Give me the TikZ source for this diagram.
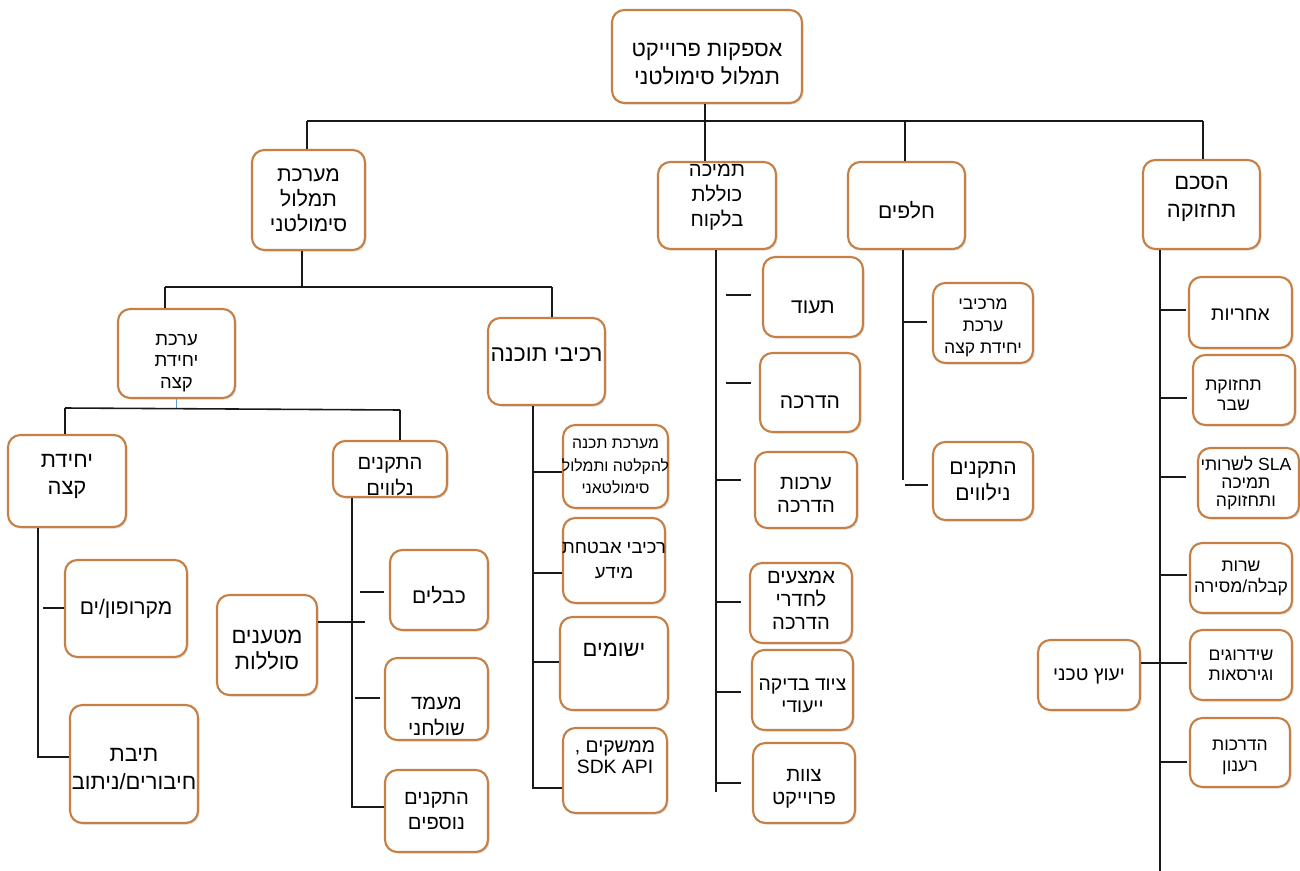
\documentclass[tikz,border=0pt]{standalone}
\usepackage{fontspec}
\setmainfont[Script=Hebrew]{Liberation Sans}
\newfontfamily\latfont{Liberation Sans}
\TeXXeTstate=1
\usetikzlibrary{fit,shadows}
\definecolor{boxedge}{RGB}{198,128,70}
\definecolor{tickblue}{RGB}{91,155,213}
\tikzset{
  box/.style={draw=boxedge, line width=1.2pt, rounded corners=7pt, fill=white, inner sep=0pt,
    drop shadow={shadow xshift=0.9pt, shadow yshift=-0.9pt, opacity=0.25}},
  lbl/.style={align=center, inner sep=0pt, text=black},
  fA/.style={font=\fontsize{12}{15}\selectfont},
  fB/.style={font=\fontsize{11}{14}\selectfont},
  fD/.style={font=\fontsize{9}{13}\selectfont},
  conn/.style={line width=0.9pt, draw=black!90},
}
\begin{document}
\begin{tikzpicture}[x=0.02cm,y=-0.02cm]
\fill[white] (0,0) rectangle (1300,871);
\useasboundingbox (0,0) rectangle (1300,871);

% ---- level 0 / 1
\node[box, fit={(612,10)(802,103)}, label={[lbl,font=\fontsize{12.5}{16}\selectfont,yshift=-4.3pt]center:{\beginR אספקות פרוייקט\endR\\\beginR תמלול סימולטני\endR}}] (top) {};
\node[box, fit={(252,150)(365,250)}, label={[lbl,font=\fontsize{12}{14.2}\selectfont]center:{\beginR מערכת\endR\\\beginR תמלול\endR\\\beginR סימולטני\endR}}] (sys) {};
\node[box, fit={(658,162)(776,249)}, label={[lbl,font=\fontsize{11.5}{14.2}\selectfont,yshift=4.8pt]center:{\beginR תמיכה\endR\\\beginR כוללת\endR\\\beginR בלקוח\endR}}] (sup) {};
\node[box, fit={(848,162)(965,249)}, label={[lbl,fA,yshift=-2.5pt]center:{\beginR חלפים\endR}}] (parts) {};
\node[box, fit={(1143,160)(1260,249)}, label={[lbl,font=\fontsize{12.5}{16}\selectfont,yshift=3pt]center:{\beginR הסכם\endR\\\beginR תחזוקה\endR}}] (maint) {};

% ---- level 2
\node[box, fit={(118,309)(235,398)}, label={[lbl,font=\fontsize{10.5}{12.2}\selectfont,yshift=-5.4pt]center:{\beginR ערכת\endR\\\beginR יחידת\endR\\\beginR קצה\endR}}] (kit) {};
\node[box, fit={(488,318)(605,405)}, label={[lbl,font=\fontsize{13}{15}\selectfont,yshift=3.7pt]center:{\beginR רכיבי תוכנה\endR}}] (sw) {};

% ---- level 3
\node[box, fit={(8,435)(126,527)}, label={[lbl,font=\fontsize{12.5}{15.3}\selectfont,yshift=2.5pt]center:{\beginR יחידת\endR\\\beginR קצה\endR}}] (eu) {};
\node[box, fit={(333,441)(447,497)}, label={[lbl,font=\fontsize{11.5}{15}\selectfont,yshift=-4.3pt]center:{\beginR התקנים\endR\\\beginR נלווים\endR}}] (acc) {};

\node[box, fit={(65,560)(187,657)}, label={[lbl,fA]center:{\beginR מקרופון/ים\endR}}] (mic) {};
\node[box, fit={(70,705)(198,823)}, label={[lbl,font=\fontsize{12.5}{16}\selectfont,yshift=-2.8pt]center:{\beginR תיבת\endR\\\beginR חיבורים/ניתוב\endR}}] (jb) {};

\node[box, fit={(217,595)(317,695)}, label={[lbl,font=\fontsize{12.5}{14.7}\selectfont,yshift=-2.8pt]center:{\beginR מטענים\endR\\\beginR סוללות\endR}}] (chg) {};
\node[box, fit={(390,550)(488,630)}, label={[lbl,fA,yshift=-2.8pt]center:{\beginR כבלים\endR}}] (cab) {};
\node[box, fit={(385,658)(488,740)}, label={[lbl,font=\fontsize{11.5}{15}\selectfont,yshift=-10pt]center:{\beginR מעמד\endR\\\beginR שולחני\endR}}] (std) {};
\node[box, fit={(385,770)(488,852)}, label={[lbl,font=\fontsize{11.5}{14}\selectfont]center:{\beginR התקנים\endR\\\beginR נוספים\endR}}] (more) {};

% ---- software components
\node[box, fit={(563,425)(668,508)}, label={[lbl,fD]center:{\beginR מערכת תכנה\endR\\\beginR להקלטה ותמלול\endR\\\beginR סימולטאני\endR}}] (swa) {};
\node[box, fit={(563,518)(665,603)}, label={[lbl,font=\fontsize{10.5}{14.7}\selectfont]center:{\beginR רכיבי אבטחת\endR\\\beginR מידע\endR}}] (swb) {};
\node[box, fit={(560,617)(668,710)}, label={[lbl,font=\fontsize{12.5}{15}\selectfont,yshift=7.6pt]center:{\beginR ישומים\endR}}] (swc) {};
\node[box, fit={(563,728)(667,813)}, label={[lbl,font=\fontsize{11}{11.5}\selectfont,yshift=7.6pt]center:{\beginR ממשקים ,\endR\\{\latfont SDK API}}}] (swd) {};

% ---- customer support
\node[box, fit={(763,257)(863,337)}, label={[lbl,fA,yshift=-5.7pt]center:{\beginR תעוד\endR}}] (doc) {};
\node[box, fit={(760,353)(860,432)}, label={[lbl,fA,yshift=-5.4pt]center:{\beginR הדרכה\endR}}] (trn) {};
\node[box, fit={(755,452)(857,528)}, label={[lbl,font=\fontsize{11.5}{13.6}\selectfont,yshift=-2.8pt]center:{\beginR ערכות\endR\\\beginR הדרכה\endR}}] (kits) {};
\node[box, fit={(750,563)(852,643)}, label={[lbl,font=\fontsize{11.5}{13}\selectfont,yshift=1.7pt]center:{\beginR אמצעים\endR\\\beginR לחדרי\endR\\\beginR הדרכה\endR}}] (rooms) {};
\node[box, fit={(752,650)(853,730)}, label={[lbl,font=\fontsize{11}{12.5}\selectfont,yshift=-3.4pt]center:{\beginR ציוד בדיקה\endR\\\beginR ייעודי\endR}}] (eqp) {};
\node[box, fit={(753,743)(855,823)}, label={[lbl,font=\fontsize{11.5}{13}\selectfont,yshift=-3.1pt]center:{\beginR צוות\endR\\\beginR פרוייקט\endR}}] (team) {};

% ---- spare parts
\node[box, fit={(933,283)(1033,363)}, label={[lbl,font=\fontsize{10}{12.7}\selectfont,yshift=-2.7pt]center:{\beginR מרכיבי\endR\\\beginR ערכת\endR\\\beginR יחידת קצה\endR}}] (pk) {};
\node[box, fit={(933,442)(1033,520)}, label={[lbl,font=\fontsize{12}{14.7}\selectfont]center:{\beginR התקנים\endR\\\beginR נילווים\endR}}] (pa) {};

% ---- maintenance agreement
\node[box, fit={(1189,277)(1292,348)}, label={[lbl,fB,yshift=-1.4pt]center:{\beginR אחריות\endR}}] (m1) {};
\node[box, fit={(1193,355)(1295,425)}, label={[lbl,font=\fontsize{10}{11.5}\selectfont,yshift=-2.8pt,xshift=-6pt]center:{\beginR תחזוקת\endR\\\beginR שבר\endR}}] (m2) {};
\node[box, fit={(1198,448)(1299,518)}, label={[lbl,font=\fontsize{10}{10.5}\selectfont,xshift=-1.5pt]center:{\beginR\beginL{\latfont SLA}\endL{} לשרותי\endR\\\beginR תמיכה\endR\\\beginR ותחזוקה\endR}}] (m3) {};
\node[box, fit={(1190,543)(1292,613)}, label={[lbl,font=\fontsize{10}{12}\selectfont]center:{\beginR שרות\endR\\\beginR קבלה/מסירה\endR}}] (m4) {};
\node[box, fit={(1190,630)(1292,700)}, label={[lbl,font=\fontsize{10}{11.5}\selectfont]center:{\beginR שידרוגים\endR\\\beginR וגירסאות\endR}}] (m5) {};
\node[box, fit={(1190,718)(1290,787)}, label={[lbl,font=\fontsize{10}{12}\selectfont,yshift=-2.8pt]center:{\beginR הדרכות\endR\\\beginR רענון\endR}}] (m6) {};
\node[box, fit={(1038,640)(1140,710)}, label={[lbl,fB,yshift=-1pt]center:{\beginR יעוץ טכני\endR}}] (cons) {};

% ================= connectors
% level 1 bus
\coordinate (bus1L) at (307,121);
\coordinate (bus1R) at (1203,121);
\coordinate (topd) at (705,121);
\coordinate (partsd) at (905,121);
\draw[conn] (topd |- top.south) -- (topd |- sup.north);
\draw[conn] (bus1L) -- (bus1R);
\draw[conn] (bus1L) -- (bus1L |- sys.north);
\draw[conn] (partsd) -- (partsd |- parts.north);
\draw[conn] (bus1R) -- (bus1R |- maint.north);

% level 2 bus
\coordinate (bus2L) at (165,287);
\coordinate (bus2R) at (552,287);
\coordinate (sysd) at (302,287);
\draw[conn] (sysd |- sys.south) -- (sysd);
\draw[conn] (bus2L) -- (bus2R);
\draw[conn] (bus2L) -- (bus2L |- kit.north);
\draw[conn] (bus2R) -- (bus2R |- sw.north);

% level 3 bus
\coordinate (bus3L) at (65,408);
\coordinate (bus3R) at (400,410);
\draw[line width=0.7pt, draw=tickblue] (kit.south) -- (kit.south |- bus3L);
\draw[conn] (bus3L) -- (bus3R);
\draw[conn] (bus3L) -- (bus3L |- eu.north);
\draw[conn] (bus3R) -- (bus3R |- acc.north);

% end unit children
\coordinate (euv) at (38,757);
\coordinate (micT) at (43,608);
\draw[conn] (euv |- eu.south) -- (euv) -- (euv -| jb.west);
\draw[conn] (micT) -- (micT -| mic.west);

% accessories children
\coordinate (accv) at (352,807);
\coordinate (cabT) at (360,592);
\coordinate (chgT) at (365,622);
\coordinate (stdT) at (355,698);
\draw[conn] (accv |- acc.south) -- (accv) -- (accv -| more.west);
\draw[conn, shorten >=3pt] (cabT) -- (cabT -| cab.west);
\draw[conn] (chgT -| chg.east) -- (chgT);
\draw[conn, shorten >=2.5pt] (stdT) -- (stdT -| std.west);

% software children
\coordinate (swv) at (533,788);
\coordinate (swaT) at (533,472);
\coordinate (swbT) at (533,573);
\coordinate (swcT) at (533,662);
\draw[conn] (swv |- sw.south) -- (swv) -- (swv -| swd.west);
\draw[conn] (swaT) -- (swaT -| swa.west);
\draw[conn] (swbT) -- (swbT -| swb.west);
\draw[conn] (swcT) -- (swcT -| swc.west);

% support children
\coordinate (supv) at (716,792);
\coordinate (docT) at (726,295);
\coordinate (trnT) at (726,383);
\coordinate (kitsT) at (716,480);
\coordinate (roomsT) at (716,602);
\coordinate (eqpT) at (716,692);
\coordinate (teamT) at (716,783);
\draw[conn] (supv |- sup.south) -- (supv);
\draw[conn, shorten >=6pt] (docT) -- (docT -| doc.west);
\draw[conn, shorten >=4.5pt] (trnT) -- (trnT -| trn.west);
\draw[conn, shorten >=7.4pt] (kitsT) -- (kitsT -| kits.west);
\draw[conn, shorten >=4.5pt] (roomsT) -- (roomsT -| rooms.west);
\draw[conn, shorten >=5.7pt] (eqpT) -- (eqpT -| eqp.west);
\draw[conn, shorten >=6pt] (teamT) -- (teamT -| team.west);

% spare parts children
\coordinate (partsv) at (903,480);
\coordinate (pkT) at (903,322);
\coordinate (paT) at (905,485);
\draw[conn] (partsv |- parts.south) -- (partsv);
\draw[conn, shorten >=3pt] (pkT) -- (pkT -| pk.west);
\draw[conn, shorten >=2pt] (paT) -- (paT -| pa.west);

% maintenance children
\coordinate (mv) at (1160,871);
\coordinate (m1T) at (1160,310);
\coordinate (m2T) at (1160,398);
\coordinate (m3T) at (1160,477);
\coordinate (m4T) at (1160,575);
\coordinate (m5T) at (1160,663);
\coordinate (m6T) at (1160,762);
\draw[conn] (mv |- maint.south) -- (mv);
\draw[conn, shorten >=1pt] (m1T) -- (m1T -| m1.west);
\draw[conn, shorten >=3pt] (m2T) -- (m2T -| m2.west);
\draw[conn, shorten >=6pt] (m3T) -- (m3T -| m3.west);
\draw[conn, shorten >=1pt] (m4T) -- (m4T -| m4.west);
\draw[conn, shorten >=1pt] (m5T) -- (m5T -| m5.west);
\draw[conn, shorten >=1pt] (m6T) -- (m6T -| m6.west);
\draw[conn] (m5T -| cons.east) -- (m5T);
\end{tikzpicture}
\end{document}
